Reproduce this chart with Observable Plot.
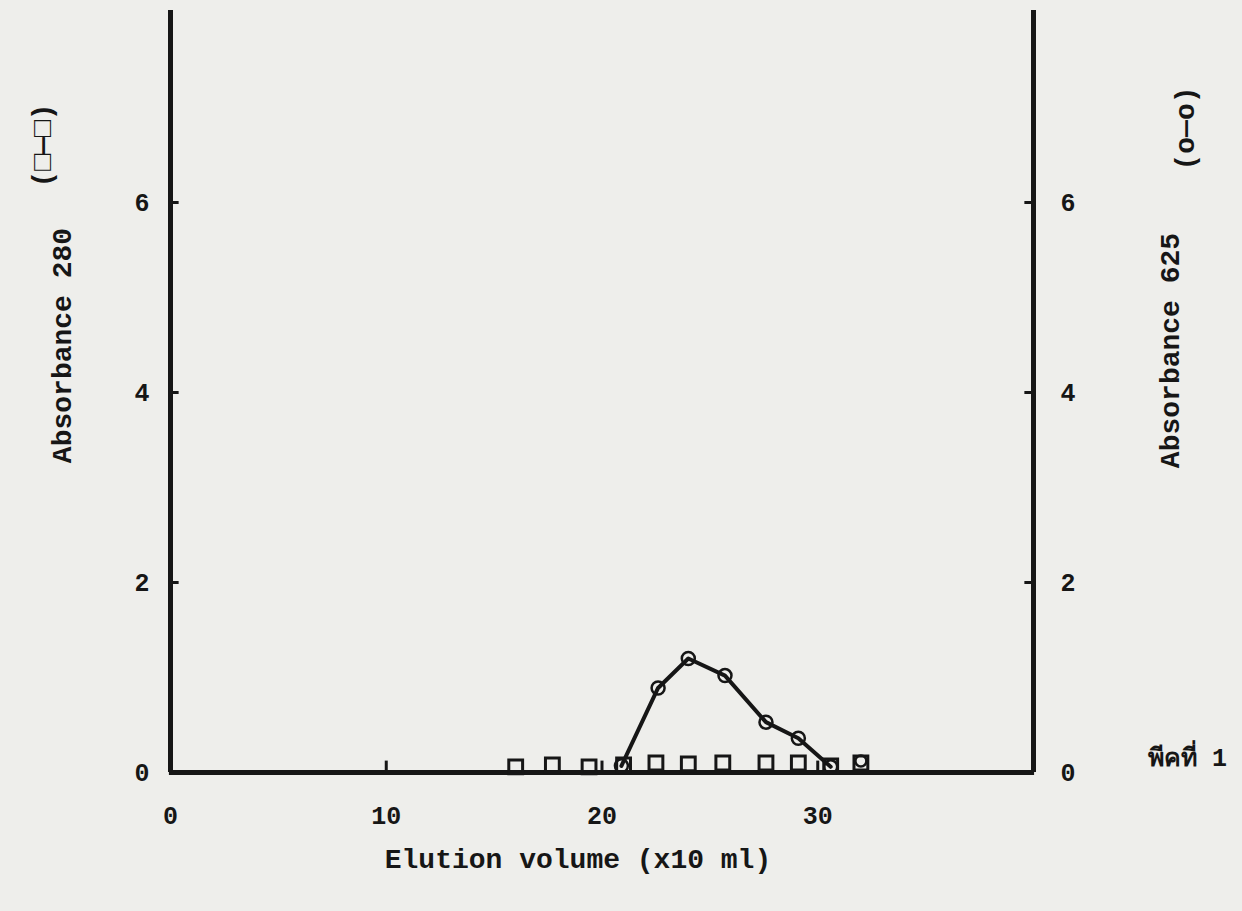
<!DOCTYPE html>
<html>
<head>
<meta charset="utf-8">
<script src="https://cdn.jsdelivr.net/npm/d3@7"></script>
<script src="https://cdn.jsdelivr.net/npm/@observablehq/plot@0.6"></script>
<style>
  html, body { margin: 0; padding: 0; background: #eeeeeb; }
  #chart svg { display: block; }
</style>
</head>
<body>
<div id="chart"></div>
<script>
// Elution profile, peak 1: absorbance at 280 nm (squares) and 625 nm (circles)
const xTicks = [0, 10, 20, 30];
const yTicks = [0, 2, 4, 6];

// fractions read at 280 nm
const volume280 = [16.0, 17.7, 19.4, 21.0, 22.5, 24.0, 25.6, 27.6, 29.1, 30.6, 32.0];
const abs280    = [0.06, 0.08, 0.06, 0.08, 0.10, 0.09, 0.10, 0.10, 0.10, 0.07, 0.10];

// fractions read at 625 nm (joined by the line)
const volume625 = [20.9, 22.6, 24.0, 25.7, 27.6, 29.1, 30.6];
const abs625    = [0.07, 0.89, 1.20, 1.02, 0.53, 0.36, 0.06];

// lone 625 nm reading after the peak
const volumeTail = [32.0];
const absTail    = [0.12];

const sq = volume280.map((v, i) => ({v, a: abs280[i]}));
const ci = volume625.map((v, i) => ({v, a: abs625[i]}));
const tail = volumeTail.map((v, i) => ({v, a: absTail[i]}));

const ink = "#161616";
const font = "'Liberation Mono', 'DejaVu Sans Mono', monospace";

const chart = Plot.plot({
  width: 1242,
  height: 911,
  marginLeft: 170,
  marginRight: 209,
  marginTop: 12,
  marginBottom: 139,
  x: {domain: [0, 40]},
  y: {domain: [0, 8]},
  style: {background: "transparent", color: ink, fontFamily: font, fontWeight: "bold"},
  marks: [
    // tick labels
    Plot.axisX({ticks: xTicks, tickSize: 0, tickPadding: 34, label: null, fontSize: 25, fontWeight: "bold"}),
    Plot.axisY({anchor: "left", ticks: yTicks, tickSize: 0, tickPadding: 21, label: null, fontSize: 25, fontWeight: "bold"}),
    Plot.axisY({anchor: "right", ticks: yTicks, tickSize: 0, tickPadding: 27, label: null, fontSize: 25, fontWeight: "bold"}),

    // inward tick marks
    Plot.ruleY(yTicks.filter(d => d > 0), {x1: 0, x2: 0.4, stroke: ink, strokeWidth: 3}),
    Plot.ruleY(yTicks.filter(d => d > 0), {x1: 39.6, x2: 40, stroke: ink, strokeWidth: 3}),
    Plot.ruleX(xTicks.filter(d => d > 0), {y1: 0, y2: 0.12, stroke: ink, strokeWidth: 3}),

    // heavy frame: two vertical axes joined by the baseline
    Plot.ruleX([0, 40], {y1: 0, y2: 8.02, stroke: ink, strokeWidth: 5}),
    Plot.ruleY([0], {x1: -0.05, x2: 40.05, stroke: ink, strokeWidth: 5}),

    // 625 nm curve
    Plot.line(ci, {x: "v", y: "a", stroke: ink, strokeWidth: 4}),
    Plot.dot(ci, {x: "v", y: "a", r: 6.5, stroke: ink, strokeWidth: 2.5, fill: "none"}),

    // 280 nm readings
    Plot.dot(sq, {x: "v", y: "a", symbol: "square", r: 7.8, stroke: ink, strokeWidth: 3, fill: "none"}),
    Plot.dot(tail, {x: "v", y: "a", r: 5.5, stroke: ink, strokeWidth: 2.5, fill: "none"}),

    // axis titles
    Plot.text(["Elution volume (x10 ml)"], {frameAnchor: "bottom", textAnchor: "middle", dx: -24, dy: 95, fontSize: 28, fill: ink}),
    Plot.text(["Absorbance 280"], {frameAnchor: "left", textAnchor: "middle", dx: -108, dy: -47, rotate: -90, fontSize: 28, fill: ink}),
    Plot.text(["(\u25A1\u2014\u25A1)"], {frameAnchor: "left", textAnchor: "middle", dx: -128, dy: -247, rotate: -90, fontSize: 28, fill: ink}),
    Plot.text(["Absorbance 625"], {frameAnchor: "right", textAnchor: "middle", dx: 137, dy: -42, rotate: -90, fontSize: 28, fill: ink}),
    Plot.text(["(o\u2014o)"], {frameAnchor: "right", textAnchor: "middle", dx: 152, dy: -264, rotate: -90, fontSize: 28, fill: ink}),

    // peak number
    Plot.text(["พีคที่ 1"], {frameAnchor: "bottom-right", textAnchor: "middle", dx: 154, dy: -7, fontSize: 25, fill: ink, fontFamily: "'Liberation Mono', 'Noto Sans', 'DejaVu Sans', sans-serif", fontWeight: "bold"})
  ]
});

document.getElementById("chart").appendChild(chart);
</script>
</body>
</html>
